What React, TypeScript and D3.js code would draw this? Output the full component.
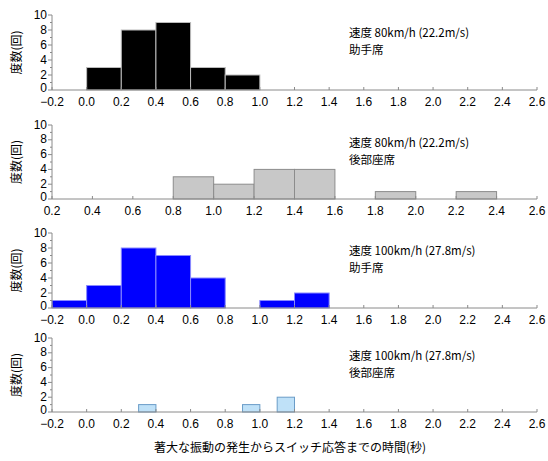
import React from "react";
import * as d3 from "d3";

const xTicksFull = [-0.2, 0.0, 0.2, 0.4, 0.6, 0.8, 1.0, 1.2, 1.4, 1.6, 1.8, 2.0, 2.2, 2.4, 2.6];
const xTicksRear80 = [0.2, 0.4, 0.6, 0.8, 1.0, 1.2, 1.4, 1.6, 1.8, 2.0, 2.2, 2.4, 2.6];
const yTicks = [0, 2, 4, 6, 8, 10];
const yMinorTicks = [1, 3, 5, 7, 9];

const p1Start = [0.0, 0.2, 0.4, 0.6, 0.8];
const p1Count = [3, 8, 9, 3, 2];
const p2Start = [0.8, 1.0, 1.2, 1.4, 1.8, 2.2];
const p2Count = [3, 2, 4, 4, 1, 1];
const p3Start = [-0.2, 0.0, 0.2, 0.4, 0.6, 1.0, 1.2];
const p3Count = [1, 3, 8, 7, 4, 1, 2];
const p4Start = [0.3, 0.9, 1.1];
const p4Count = [1, 1, 2];

const titles1 = ["速度 80km/h (22.2m/s)", "速度 80km/h (22.2m/s)", "速度 100km/h (27.8m/s)", "速度 100km/h (27.8m/s)"];
const titles2 = ["助手席", "後部座席", "助手席", "後部座席"];
const yLabel = "度数(回)";
const xLabel = "著大な振動の発生からスイッチ応答までの時間(秒)";

const panels = [
  { starts: p1Start, counts: p1Count, width: 0.2, ticks: xTicksFull, top: 15, bottom: 90, fill: "#000000", stroke: "#bbbbbb" },
  { starts: p2Start, counts: p2Count, width: 0.2, ticks: xTicksRear80, top: 125, bottom: 199, fill: "#c8c8c8", stroke: "#8c8c8c" },
  { starts: p3Start, counts: p3Count, width: 0.2, ticks: xTicksFull, top: 233, bottom: 308, fill: "#0000ff", stroke: "#8a8aff" },
  { starts: p4Start, counts: p4Count, width: 0.1, ticks: xTicksFull, top: 338, bottom: 412, fill: "#bfe1f8", stroke: "#6a9cc8" },
];

const fmt = (v: number) => (v < 0 ? "−" + Math.abs(v).toFixed(1) : v.toFixed(1));
const tickFont = "'Liberation Sans', Arial, sans-serif";
const jpFont = "'Noto Sans CJK JP', sans-serif";
const axisColor = "#8a8a8a";

function Panel({ p, i }: { p: typeof panels[number]; i: number }) {
  const x = d3.scaleLinear().domain([p.ticks[0], p.ticks[p.ticks.length - 1]]).range([52, 537]);
  const y = d3.scaleLinear().domain([0, 10]).range([p.bottom, p.top]);
  return (
    <g>
      {p.starts.map((s, k) => (
        <rect key={k} x={x(s)} y={y(p.counts[k])} width={x(s + p.width) - x(s)} height={y(0) - y(p.counts[k])}
          fill={p.fill} stroke={p.stroke} strokeWidth={1} />
      ))}
      <line x1={52} x2={537} y1={p.bottom} y2={p.bottom} stroke={axisColor} strokeWidth={1} />
      <line x1={52} x2={52} y1={p.top} y2={p.bottom} stroke={axisColor} strokeWidth={1} />
      {p.ticks.map((t, k) => (
        <g key={k}>
          <line x1={x(t)} x2={x(t)} y1={p.bottom} y2={p.bottom - 3} stroke={axisColor} />
          <text x={x(t)} y={p.bottom + 15.5} textAnchor="middle" fontSize={12} fontFamily={tickFont} fill="#000">{fmt(t)}</text>
        </g>
      ))}
      {yTicks.map((t) => (
        <g key={t}>
          <line x1={48} x2={52} y1={y(t)} y2={y(t)} stroke={axisColor} />
          <text x={47} y={y(t) + (t === 0 ? 2 : 3.5)} textAnchor="end" fontSize={12} fontFamily={tickFont} fill="#000">{t}</text>
        </g>
      ))}
      {yMinorTicks.map((t) => (
        <line key={t} x1={50} x2={52} y1={y(t)} y2={y(t)} stroke={axisColor} />
      ))}
      <text transform={`translate(21,${(p.top + p.bottom) / 2}) rotate(-90)`} textAnchor="middle" fontSize={12}
        fontFamily={jpFont} fill="#000">{yLabel}</text>
      <text x={349} y={p.top + 22} fontSize={11.5} fontFamily={jpFont} fill="#000">{titles1[i]}</text>
      <text x={349} y={p.top + 39} fontSize={11.5} fontFamily={jpFont} fill="#000">{titles2[i]}</text>
    </g>
  );
}

export default function App() {
  return (
    <svg width={548} height={461} style={{ position: "absolute", left: 0, top: 0, background: "#fff" }}>
      <rect width={548} height={461} fill="#fff" />
      {panels.map((p, i) => <Panel key={i} p={p} i={i} />)}
      <text x={290} y={452} textAnchor="middle" fontSize={12} fontFamily={jpFont} fill="#000">{xLabel}</text>
    </svg>
  );
}
